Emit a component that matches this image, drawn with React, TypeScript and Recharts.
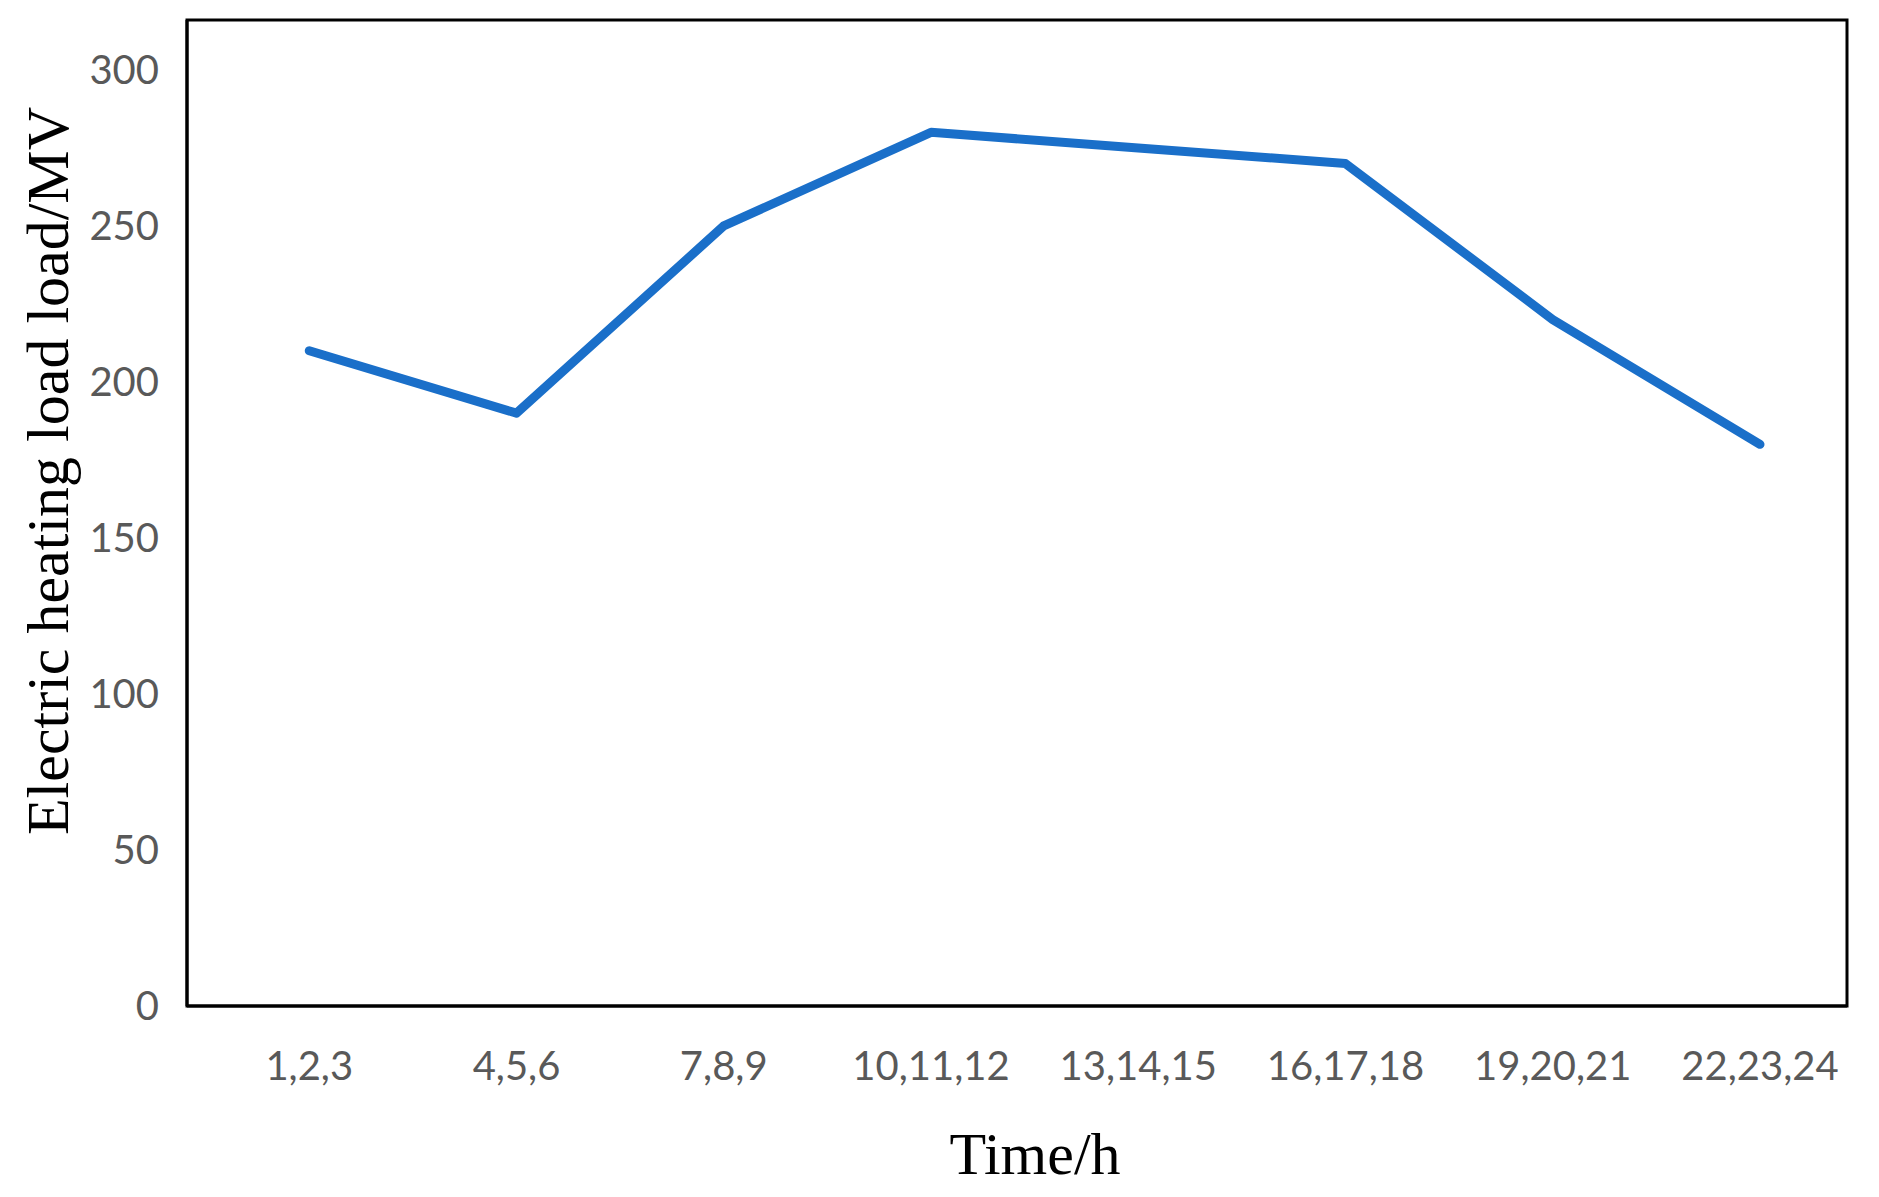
import React from 'react';
import { LineChart, Line, XAxis, YAxis, ReferenceArea } from 'recharts';

const timeSlots = ['1,2,3', '4,5,6', '7,8,9', '10,11,12', '13,14,15', '16,17,18', '19,20,21', '22,23,24'];
const heatingLoad = [210, 190, 250, 280, 275, 270, 220, 180];
const yTicks = [0, 50, 100, 150, 200, 250, 300];
const yMax = 316;

// slots sit on 0..7; the frame leaves extra room before the first one
const slotIndex = timeSlots.map((_, i) => i);
const xDomain = [-0.59, 7.42];

const chartData = timeSlots.map((slot, i) => ({ pos: slotIndex[i], slot, load: heatingLoad[i] }));

const tickStyle = { fill: '#595959', fontSize: 40, fontFamily: 'Lato, "Open Sans", sans-serif' };
const titleFont = '"Liberation Serif", "Times New Roman", serif';

const YTitle = (props: any) => {
  const { x, y, height } = props.viewBox;
  const cx = x + 48;
  const cy = y + height / 2 - 42;
  return (
    <text
      x={cx}
      y={cy}
      transform={`rotate(-90, ${cx}, ${cy})`}
      textAnchor="middle"
      dominantBaseline="central"
      fill="#000"
      fontSize={60}
      fontFamily={titleFont}
    >
      Electric heating load load/MV
    </text>
  );
};

const XTitle = (props: any) => {
  const { x, y, width } = props.viewBox;
  return (
    <text
      x={x + width / 2 + 18}
      y={y + 148}
      textAnchor="middle"
      dominantBaseline="central"
      fill="#000"
      fontSize={60}
      fontFamily={titleFont}
    >
      Time/h
    </text>
  );
};

export default function App() {
  return (
    <div style={{ position: 'absolute', left: 0, top: 0, background: '#fff' }}>
      <LineChart
        width={1879}
        height={1197}
        data={chartData}
        margin={{ top: 20, right: 32, left: 0, bottom: 0 }}
      >
        <XAxis
          dataKey="pos"
          type="number"
          domain={xDomain}
          allowDataOverflow
          ticks={slotIndex}
          tickFormatter={(i: number) => timeSlots[i]}
          height={191}
          axisLine={{ stroke: '#000', strokeWidth: 3 }}
          tickLine={false}
          tickMargin={40}
          tick={tickStyle}
          interval={0}
          label={<XTitle />}
        />
        <YAxis
          width={187}
          domain={[0, yMax]}
          ticks={yTicks}
          allowDataOverflow
          axisLine={{ stroke: '#000', strokeWidth: 3 }}
          tickLine={false}
          tickMargin={22}
          tick={tickStyle}
          label={<YTitle />}
        />
        {/* plot frame */}
        <ReferenceArea
          y1={0}
          y2={yMax}
          fill="none"
          fillOpacity={0}
          stroke="#000"
          strokeWidth={3}
        />
        <Line
          dataKey="load"
          stroke="#1a6fc9"
          strokeWidth={9}
          strokeLinecap="round"
          strokeLinejoin="round"
          dot={false}
          activeDot={false}
          isAnimationActive={false}
        />
      </LineChart>
    </div>
  );
}
